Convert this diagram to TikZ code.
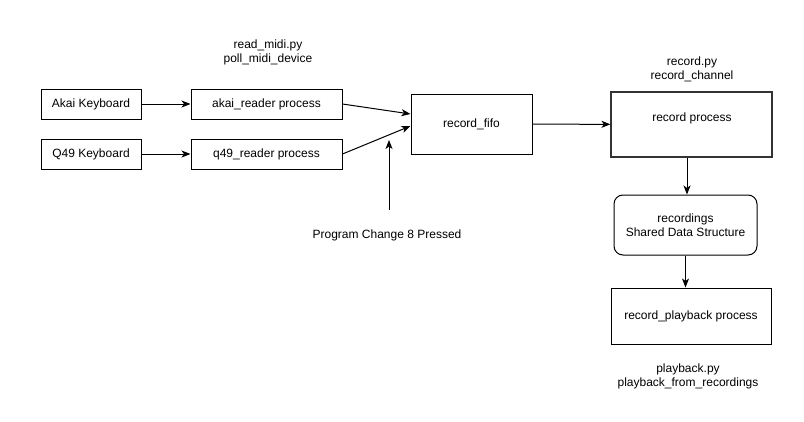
\documentclass[tikz,border=0pt]{standalone}
\usepackage{fontspec}
\setmainfont{Liberation Sans}
\usetikzlibrary{arrows.meta,calc}
\begin{document}
\begin{tikzpicture}[x=1pt,y=-1pt,
  font=\fontsize{12}{14}\selectfont,
  box/.style={draw=black,line width=1pt,minimum width=#1,inner sep=0pt,align=center},
  arr/.style={line width=1pt,-{Stealth[length=9pt,width=7pt,inset=2.5pt]}},
  lbl/.style={align=center,inner sep=0pt,font=\fontsize{12}{14}\selectfont}]
\useasboundingbox (0,0) rectangle (804,421);
\fill[white] (0,0) rectangle (804,421);
% nodes
\node[box=100pt,minimum height=30pt] (akai) at (91,104) {Akai Keyboard};
\node[box=100pt,minimum height=30pt] (q49) at (91,154) {Q49 Keyboard};
\node[box=151pt,minimum height=30pt] (akr) at (266.5,104) {akai\_reader process};
\node[box=151pt,minimum height=30pt] (qr) at (266.5,154) {q49\_reader process};
\node[box=121pt,minimum height=60pt] (fifo) at (471.5,124) {record\_fifo};
\node[draw=black!80,line width=1.1pt,minimum width=161pt,minimum height=65pt,inner sep=0pt] (rp) at (691.5,124.5) {};
\node[lbl] (rptext) at (692,118) {record process};
\node[box=143pt,minimum height=60pt,rounded corners=9pt] (rec) at (685.5,225) {recordings\\Shared Data Structure};
\node[box=160pt,minimum height=56pt] (pb) at (691,316) {record\_playback process};
% texts
\node[lbl] (rmidi) at (268,52) {read\_midi.py\\poll\_midi\_device};
\node[lbl] (recpy) at (692,69) {record.py\\record\_channel};
\node[lbl] (pc) at (387,235) {Program Change 8 Pressed};
\node[lbl] (pbpy) at (688,376) {playback.py\\playback\_from\_recordings};
\coordinate (pcstart) at (389,210);
% connectors
\draw[arr] (akai) -- (akr);
\draw[arr] (q49) -- (qr);
\draw[arr] (akr.east) -- ([yshift=10pt]fifo.west);
\draw[arr] (qr.east) -- ([yshift=-2pt]fifo.west);
\draw[arr] (pcstart) -- (pcstart |- 0,140);
\draw[arr] (fifo) -- (rp);
\draw[arr] ([xshift=-4.5pt]rp.south) -- ([xshift=1.5pt]rec.north);
\draw[arr] (rec.south) -- (rec.south |- pb.north);
\end{tikzpicture}
\end{document}
